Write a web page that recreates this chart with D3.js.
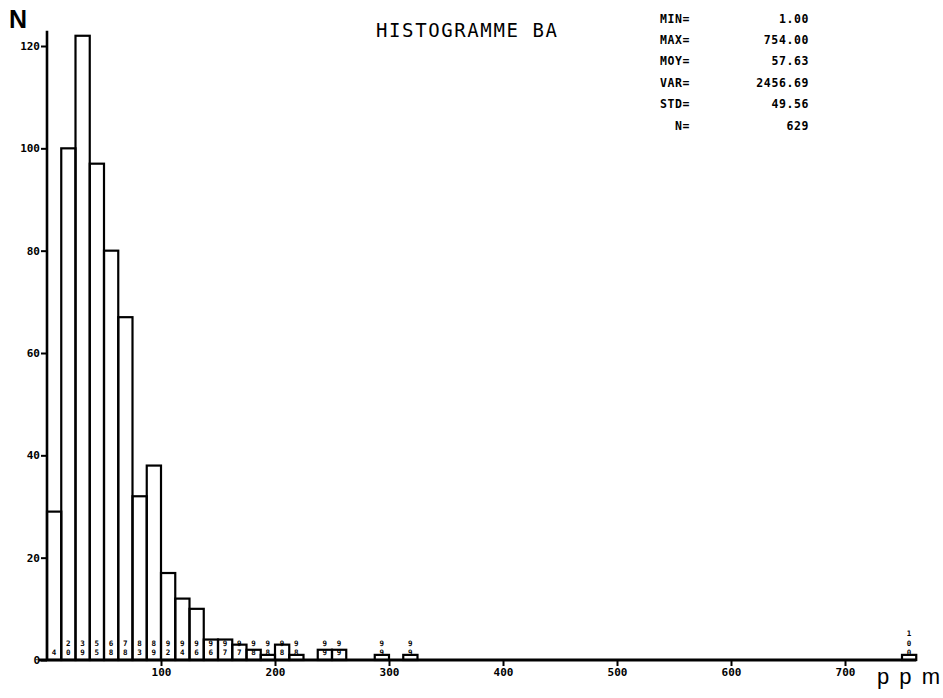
<!DOCTYPE html>
<html>
<head>
<meta charset="utf-8">
<script src="https://cdn.jsdelivr.net/npm/d3@7"></script>
<style>
  html, body { margin: 0; padding: 0; background: #fff; }
  svg { display: block; }
  text { fill: #000; }
</style>
</head>
<body>
<svg id="chart" width="943" height="698"></svg>
<script>
// ---- data ----
const binStarts = [0, 12.5, 25, 37.5, 50, 62.5, 75, 87.5, 100, 112.5, 125, 137.5, 150, 162.5, 175, 187.5, 200, 212.5, 237.5, 250, 287.5, 312.5, 750];
const binWidths = [12.5, 12.5, 12.5, 12.5, 12.5, 12.5, 12.5, 12.5, 12.5, 12.5, 12.5, 12.5, 12.5, 12.5, 12.5, 12.5, 12.5, 12.5, 12.5, 12.5, 12.5, 12.5, 12.5];
const counts = [29, 100, 122, 97, 80, 67, 32, 38, 17, 12, 10, 4, 4, 3, 2, 1, 3, 1, 2, 2, 1, 1, 1];
const cumLabels = ["4", "20", "39", "55", "68", "78", "83", "89", "92", "94", "96", "96", "97", "97", "98", "98", "98", "98", "99", "99", "99", "99", "100"];
const yTicks = [0, 20, 40, 60, 80, 100, 120];
const xTicks = [100, 200, 300, 400, 500, 600, 700];
const statNames = ["MIN=", "MAX=", "MOY=", "VAR=", "STD=", "N="];
const statValues = ["1.00", "754.00", "57.63", "2456.69", "49.56", "629"];
const title = "HISTOGRAMME BA";
const yTitle = "N";
const xTitle = "ppm";

const svg = d3.select("#chart");
const mono = "'DejaVu Sans Mono', 'Liberation Mono', monospace";

const x = d3.scaleLinear().domain([0, 700]).range([47, 845]);
const y = d3.scaleLinear().domain([0, 120]).range([660, 46]);

const bins = binStarts.map((s, i) => ({ x0: s, x1: s + binWidths[i], n: counts[i], lab: cumLabels[i] }));

// bars
svg.append("g").selectAll("rect").data(bins).join("rect")
  .attr("x", d => x(d.x0))
  .attr("y", d => y(d.n))
  .attr("width", d => x(d.x1) - x(d.x0))
  .attr("height", d => y(0) - y(d.n))
  .attr("fill", "none")
  .attr("stroke", "#000")
  .attr("stroke-width", 2.2);

// cumulative percentage labels, digits stacked vertically
const labG = svg.append("g").attr("font-family", mono).attr("font-weight", "bold").attr("font-size", 7.5);
bins.forEach(d => {
  const chars = d.lab.split("");
  const cx = (x(d.x0) + x(d.x1)) / 2;
  chars.forEach((c, j) => {
    const fromBottom = chars.length - 1 - j;
    labG.append("text")
      .attr("x", cx)
      .attr("y", y(0) - 5 - fromBottom * 9.5)
      .attr("text-anchor", "middle")
      .text(c);
  });
});

// y axis
const gy = svg.append("g").attr("transform", `translate(${x(0)},0)`)
  .call(d3.axisLeft(y).tickValues(yTicks).tickSize(6).tickSizeOuter(0).tickPadding(1));
gy.select(".domain").remove();
gy.selectAll(".tick line").attr("stroke", "#000").attr("stroke-width", 2);
gy.selectAll(".tick text").attr("font-family", mono).attr("font-weight", "bold").attr("font-size", 11).attr("fill", "#000");
svg.append("line")
  .attr("x1", x(0)).attr("x2", x(0))
  .attr("y1", y(0)).attr("y2", y(123))
  .attr("stroke", "#000").attr("stroke-width", 2.6);

// x axis
const gx = svg.append("g").attr("transform", `translate(0,${y(0)})`)
  .call(d3.axisBottom(x).tickValues(xTicks).tickSize(6).tickSizeOuter(0).tickPadding(2));
gx.select(".domain").remove();
gx.selectAll(".tick line").attr("stroke", "#000").attr("stroke-width", 2);
gx.selectAll(".tick text").attr("font-family", mono).attr("font-weight", "bold").attr("font-size", 11).attr("fill", "#000");
svg.append("line")
  .attr("x1", x(0) - 8).attr("x2", x(762.5))
  .attr("y1", y(0)).attr("y2", y(0))
  .attr("stroke", "#000").attr("stroke-width", 2.8);

// title
svg.append("text")
  .attr("x", 376).attr("y", 37)
  .attr("font-family", mono).attr("font-size", 19)
  .attr("textLength", 181).attr("lengthAdjust", "spacing")
  .text(title);

// axis titles
svg.append("text")
  .attr("x", 9).attr("y", 28)
  .attr("font-family", "'Liberation Sans', Arial, sans-serif").attr("font-weight", "bold").attr("font-size", 25)
  .text(yTitle);
svg.append("text")
  .attr("x", 877).attr("y", 684)
  .attr("font-family", "'Liberation Sans', Arial, sans-serif").attr("font-size", 22)
  .attr("textLength", 63).attr("lengthAdjust", "spacing")
  .text(xTitle);

// statistics block
const stG = svg.append("g").attr("font-family", mono).attr("font-weight", "bold").attr("font-size", 11.5);
statNames.forEach((s, i) => {
  stG.append("text").attr("x", 690).attr("y", 22.5 + i * 21.4)
    .attr("text-anchor", "end").attr("letter-spacing", 0.6).text(s);
  stG.append("text").attr("x", 809).attr("y", 22.5 + i * 21.4)
    .attr("text-anchor", "end").attr("letter-spacing", 0.6).text(statValues[i]);
});
</script>
</body>
</html>
